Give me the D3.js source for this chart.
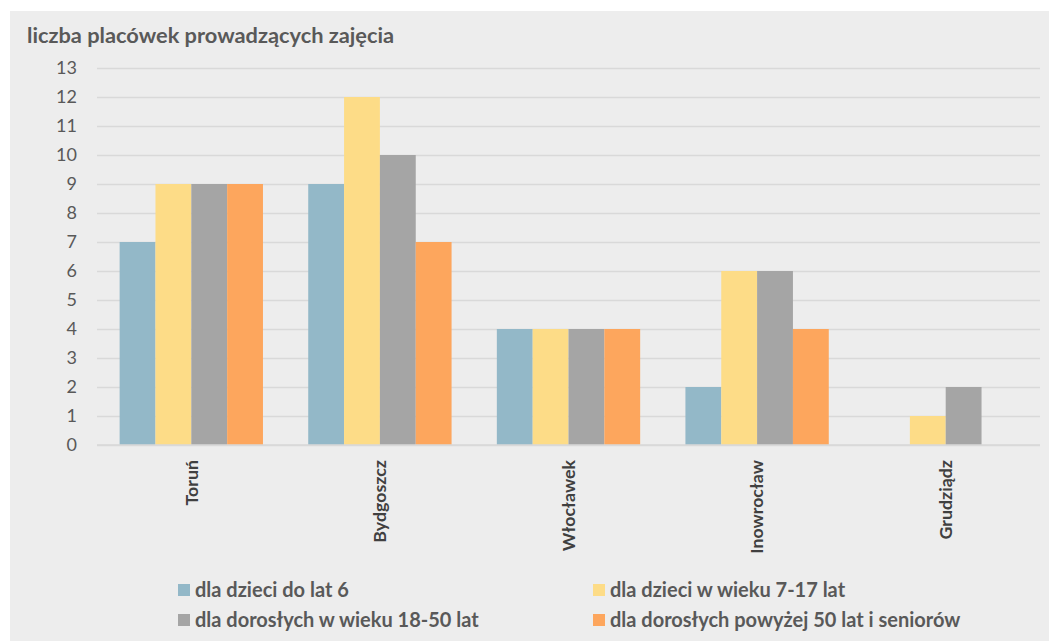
<!DOCTYPE html>
<html><head><meta charset="utf-8">
<script src="https://cdn.jsdelivr.net/npm/d3@7"></script>
<style>body{margin:0;background:#fff}svg{display:block}</style>
</head><body>
<svg id="c" width="1049" height="641"></svg>
<script>
const categories = ["Toruń","Bydgoszcz","Włocławek","Inowrocław","Grudziądz"];
const seriesNames = ["dla dzieci do lat 6","dla dzieci w wieku 7-17 lat","dla dorosłych w wieku 18-50 lat","dla dorosłych powyżej 50 lat i seniorów"];
const s1 = [7, 9, 4, 2, 0];
const s2 = [9, 12, 4, 6, 1];
const s3 = [9, 10, 4, 6, 2];
const s4 = [9, 7, 4, 4, 0];
const yTicks = [0,1,2,3,4,5,6,7,8,9,10,11,12,13];
const colors = ["#93b8c8","#fddc87","#a5a5a5","#fda65d"];
const title = "liczba placówek prowadzących zajęcia";

const series = [s1,s2,s3,s4];
const svg = d3.select("#c");
const font = "Lato, 'Open Sans', sans-serif";

svg.append("rect").attr("x",10).attr("y",11).attr("width",1039).attr("height",640).attr("fill","#ededed");

svg.append("text").attr("x",27).attr("y",43).text(title)
  .attr("font-family",font).attr("font-weight","bold").attr("font-size",21.8).attr("fill","#595959");

const pL=97, pR=1040, pT=68, pB=445;
const x = d3.scaleBand().domain(categories).range([pL,pR]).paddingInner(0.24).paddingOuter(0.12);
const x1 = d3.scaleBand().domain(d3.range(series.length)).range([0,x.bandwidth()]);
const y = d3.scaleLinear().domain([0,13]).range([pB,pT]);

const ga = svg.append("g").attr("transform",`translate(${pL},0)`)
  .call(d3.axisLeft(y).tickValues(yTicks).tickSize(-(pR-pL)).tickFormat(""));
ga.select(".domain").remove();
ga.selectAll("line").attr("stroke","#d9d9d9").attr("stroke-width",1.5);

const yl = svg.append("g").attr("transform",`translate(${pL},0)`)
  .call(d3.axisLeft(y).tickValues(yTicks).tickSize(0).tickPadding(20));
yl.select(".domain").remove();
yl.selectAll("text").attr("font-family",font).attr("font-size",18).attr("fill","#595959");

const g = svg.append("g");
categories.forEach((c,i)=>{
  series.forEach((s,j)=>{
    if(s[i]>0) g.append("rect")
      .attr("x",x(c)+x1(j)).attr("width",x1.bandwidth())
      .attr("y",y(s[i])).attr("height",y(0)-y(s[i]))
      .attr("fill",colors[j]);
  });
});

svg.append("line").attr("x1",pL).attr("x2",pR).attr("y1",pB).attr("y2",pB)
  .attr("stroke","#d9d9d9").attr("stroke-width",1.5);

const xa = svg.append("g").attr("transform",`translate(0,${pB})`)
  .call(d3.axisBottom(x).tickSize(0).tickPadding(0));
xa.select(".domain").remove();
xa.selectAll("text")
  .attr("transform","rotate(-90)")
  .attr("x",-15).attr("y",0).attr("dy","0.35em")
  .attr("text-anchor","end")
  .attr("font-family",font).attr("font-weight","bold").attr("font-size",17.8).attr("fill","#404040");

const legPos = [[178,590],[593,590],[178,620],[593,620]];
seriesNames.forEach((n,j)=>{
  const [lx,ly]=legPos[j];
  svg.append("rect").attr("x",lx).attr("y",ly-6).attr("width",12).attr("height",12).attr("fill",colors[j]);
  svg.append("text").attr("x",lx+17).attr("y",ly).attr("dy","0.35em").text(n)
    .attr("font-family",font).attr("font-weight","bold").attr("font-size",20).attr("fill","#595959");
});
</script>
</body></html>
